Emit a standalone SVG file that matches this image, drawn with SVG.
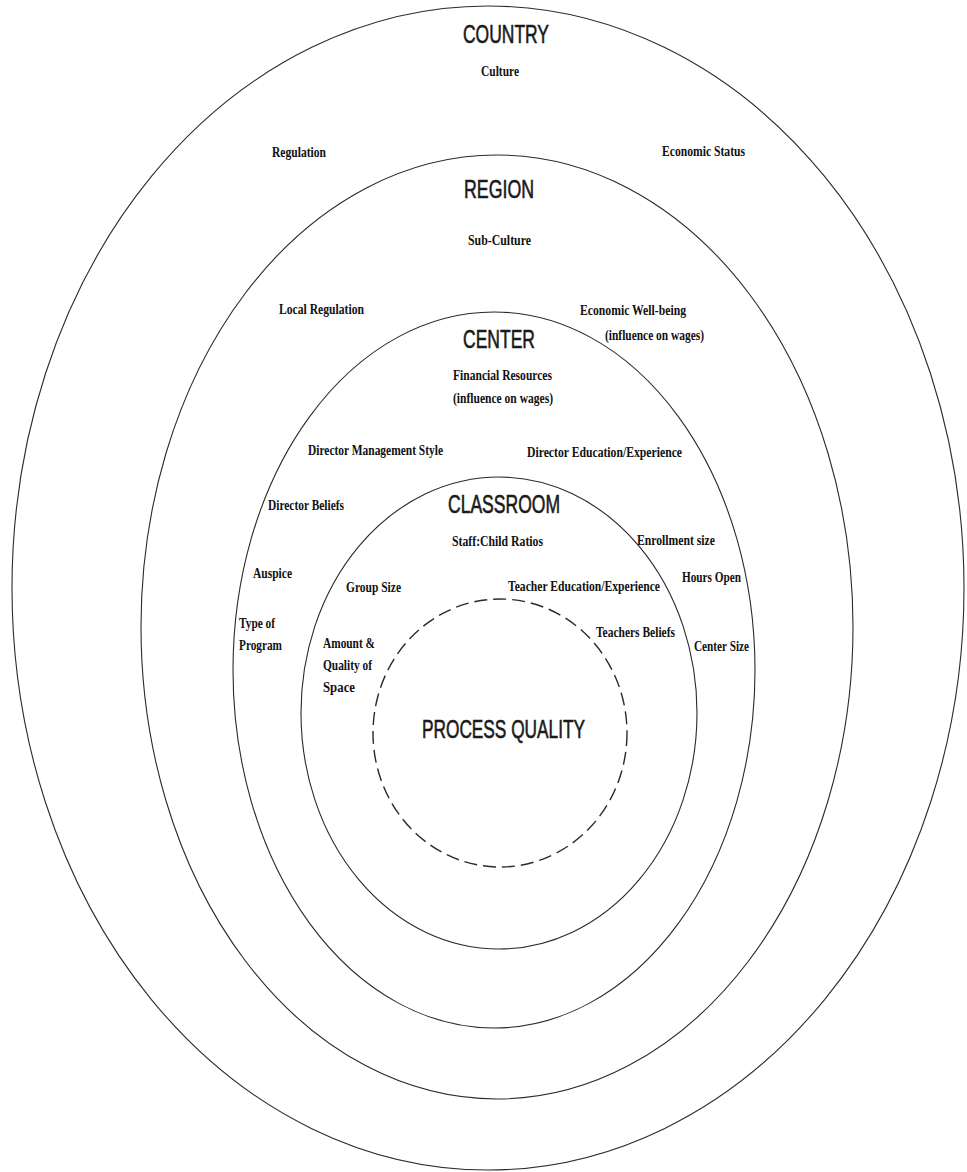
<svg xmlns="http://www.w3.org/2000/svg" width="967" height="1172" viewBox="0 0 967 1172">
<style>
.ring{fill:none;stroke:#2a2a2a;stroke-width:1.1}
.dash{fill:none;stroke:#2a2a2a;stroke-width:1.4;stroke-dasharray:13 6}
.title{font-family:"Liberation Sans",Arial,sans-serif;font-size:25px;fill:#1a1a1a;stroke:#1a1a1a;stroke-width:0.6}
.lab{font-family:"Liberation Serif","Times New Roman",serif;font-weight:bold;font-size:14px;fill:#111}
</style>
<rect width="967" height="1172" fill="#fff"/>
<g id="country">
<ellipse class="ring" cx="488" cy="588" rx="476" ry="582"/>
<text class="title" x="463" y="43" textLength="86" lengthAdjust="spacingAndGlyphs">COUNTRY</text>
<text class="lab" x="481" y="76" textLength="38" lengthAdjust="spacingAndGlyphs">Culture</text>
<text class="lab" x="272" y="157" textLength="54" lengthAdjust="spacingAndGlyphs">Regulation</text>
<text class="lab" x="662" y="156" textLength="83" lengthAdjust="spacingAndGlyphs">Economic Status</text>
</g>
<g id="region">
<ellipse class="ring" cx="497" cy="627" rx="356" ry="472"/>
<text class="title" x="464" y="198" textLength="70" lengthAdjust="spacingAndGlyphs">REGION</text>
<text class="lab" x="468" y="245" textLength="63" lengthAdjust="spacingAndGlyphs">Sub-Culture</text>
<text class="lab" x="279" y="314" textLength="85" lengthAdjust="spacingAndGlyphs">Local Regulation</text>
<text class="lab" x="580" y="315" textLength="106" lengthAdjust="spacingAndGlyphs">Economic Well-being</text>
<text class="lab" x="605" y="340" textLength="99" lengthAdjust="spacingAndGlyphs">(influence on wages)</text>
</g>
<g id="center">
<ellipse class="ring" cx="494" cy="670" rx="261" ry="358"/>
<text class="title" x="463" y="348" textLength="72" lengthAdjust="spacingAndGlyphs">CENTER</text>
<text class="lab" x="453" y="380" textLength="99" lengthAdjust="spacingAndGlyphs">Financial Resources</text>
<text class="lab" x="453" y="403" textLength="100" lengthAdjust="spacingAndGlyphs">(influence on wages)</text>
<text class="lab" x="308" y="455" textLength="135" lengthAdjust="spacingAndGlyphs">Director Management Style</text>
<text class="lab" x="527" y="457" textLength="155" lengthAdjust="spacingAndGlyphs">Director Education/Experience</text>
<text class="lab" x="268" y="510" textLength="76" lengthAdjust="spacingAndGlyphs">Director Beliefs</text>
<text class="lab" x="637" y="545" textLength="78" lengthAdjust="spacingAndGlyphs">Enrollment size</text>
<text class="lab" x="253" y="578" textLength="39" lengthAdjust="spacingAndGlyphs">Auspice</text>
<text class="lab" x="682" y="582" textLength="59" lengthAdjust="spacingAndGlyphs">Hours Open</text>
<text class="lab" x="239" y="628" textLength="36" lengthAdjust="spacingAndGlyphs">Type of</text>
<text class="lab" x="239" y="650" textLength="43" lengthAdjust="spacingAndGlyphs">Program</text>
<text class="lab" x="694" y="651" textLength="55" lengthAdjust="spacingAndGlyphs">Center Size</text>
</g>
<g id="classroom">
<ellipse class="ring" cx="499" cy="713" rx="198" ry="236"/>
<text class="title" x="448" y="513" textLength="112" lengthAdjust="spacingAndGlyphs">CLASSROOM</text>
<text class="lab" x="452" y="546" textLength="91" lengthAdjust="spacingAndGlyphs">Staff:Child Ratios</text>
<text class="lab" x="346" y="592" textLength="55" lengthAdjust="spacingAndGlyphs">Group Size</text>
<text class="lab" x="508" y="591" textLength="152" lengthAdjust="spacingAndGlyphs">Teacher Education/Experience</text>
<text class="lab" x="596" y="637" textLength="79" lengthAdjust="spacingAndGlyphs">Teachers Beliefs</text>
<text class="lab" x="323" y="648" textLength="52" lengthAdjust="spacingAndGlyphs">Amount &amp;</text>
<text class="lab" x="323" y="670" textLength="49" lengthAdjust="spacingAndGlyphs">Quality of</text>
<text class="lab" x="323" y="692" textLength="32" lengthAdjust="spacingAndGlyphs">Space</text>
</g>
<g id="process-quality">
<ellipse class="dash" cx="500" cy="733" rx="127" ry="134"/>
<text class="title" x="422" y="738" textLength="163" lengthAdjust="spacingAndGlyphs">PROCESS QUALITY</text>
</g>
<g id="connectors"/>
</svg>
